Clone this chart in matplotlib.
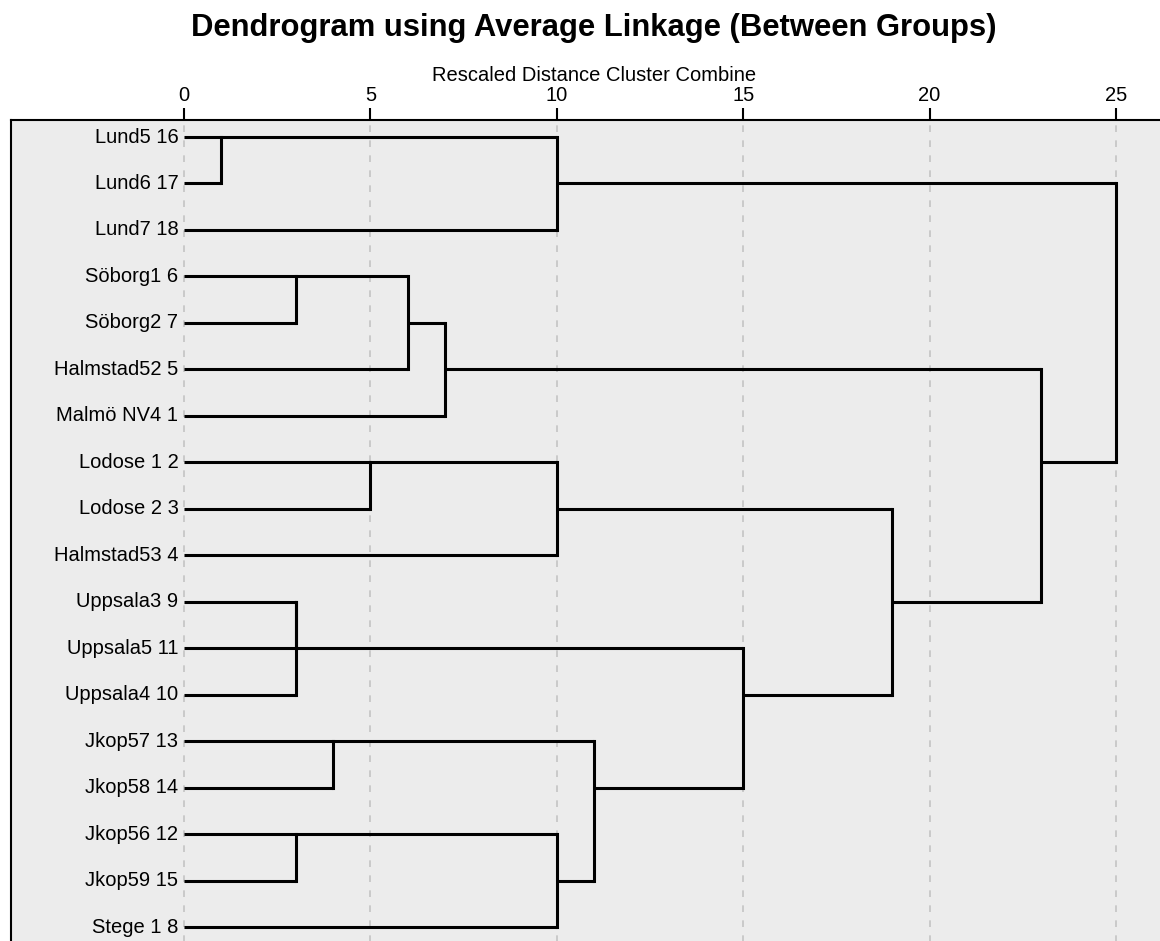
import numpy as np
import matplotlib.pyplot as plt

plt.rcParams['font.family'] = ['Liberation Sans', 'DejaVu Sans']

# leaves, top to bottom
labels = ['Lund5 16', 'Lund6 17', 'Lund7 18', 'Söborg1 6', 'Söborg2 7',
          'Halmstad52 5', 'Malmö NV4 1', 'Lodose 1 2', 'Lodose 2 3',
          'Halmstad53 4', 'Uppsala3 9', 'Uppsala5 11', 'Uppsala4 10',
          'Jkop57 13', 'Jkop58 14', 'Jkop56 12', 'Jkop59 15', 'Stege 1 8']

# merges: (child a, child b, rescaled distance); new clusters numbered from 18
merge_a = [0, 18, 3, 20, 21, 7, 23, 10, 25, 13, 15, 28, 27, 26, 24, 22, 19]
merge_b = [1, 2, 4, 5, 6, 8, 9, 11, 12, 14, 16, 17, 29, 30, 31, 32, 33]
merge_d = [1, 10, 3, 6, 7, 5, 10, 3, 3, 4, 3, 10, 11, 15, 19, 23, 25]

fig = plt.figure(figsize=(11.6, 9.41), dpi=100)
ax = fig.add_axes([11 / 1160, -4 / 941, 1159 / 1160, 825 / 941])
ax.set_facecolor('#ececec')

# position (x, row) of every node
xs = [0.0] * len(labels)
ys = list(range(len(labels)))
lw = 2.2
for a, b, d in zip(merge_a, merge_b, merge_d):
    ax.plot([xs[a], d], [ys[a], ys[a]], color='black', lw=lw, solid_capstyle='butt', zorder=3)
    ax.plot([xs[b], d], [ys[b], ys[b]], color='black', lw=lw, solid_capstyle='butt', zorder=3)
    ax.plot([d, d], [ys[a], ys[b]], color='black', lw=lw, solid_capstyle='projecting', zorder=3)
    xs.append(d)
    ys.append((ys[a] + ys[b]) // 2)

for i, lab in enumerate(labels):
    ax.text(-0.15, i, lab, ha='right', va='center', fontsize=14.5)

ax.set_xlim(-4.64, 26.45)
ax.set_ylim(17.387, -0.366)
ax.set_xticks([0, 5, 10, 15, 20, 25])
ax.set_yticks([])
ax.xaxis.tick_top()
ax.xaxis.set_label_position('top')
ax.tick_params(axis='x', direction='out', length=8.5, width=1.5, labelsize=14.5, pad=2)
ax.grid(axis='x', color='#c4c4c4', linestyle=(0, (4, 5)), linewidth=1.2, zorder=0)
ax.set_axisbelow(True)
for s in ax.spines.values():
    s.set_linewidth(1.5)

ax.set_xlabel('Rescaled Distance Cluster Combine', fontsize=14.5)
ax.xaxis.set_label_coords((594 - 11) / 1159, 1 + (120 - 81) / 825)

fig.text(594 / 1160, 1 - 36 / 941, 'Dendrogram using Average Linkage (Between Groups)',
         ha='center', va='baseline', fontsize=22.3, fontweight='bold')

fig.savefig('out.png', dpi=100)
